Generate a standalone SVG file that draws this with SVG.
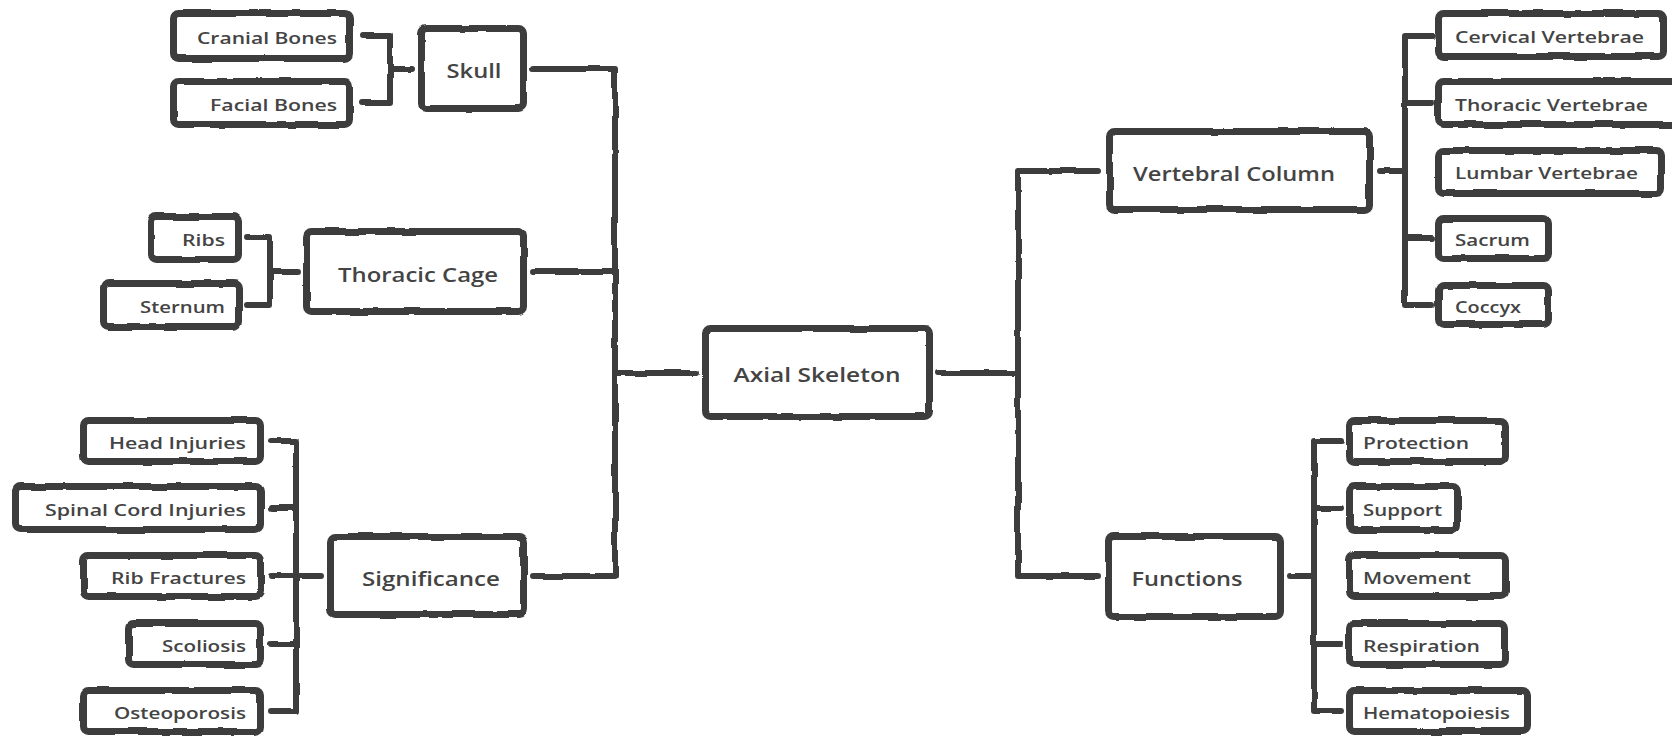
<svg xmlns="http://www.w3.org/2000/svg" width="1672" height="736" viewBox="0 0 1672 736">
  <defs>
    <!-- slight wobble for a hand-drawn marker look -->
    <filter id="rough" filterUnits="userSpaceOnUse" x="0" y="0" width="1672" height="736">
      <feTurbulence type="fractalNoise" baseFrequency="0.035" numOctaves="2" seed="7" result="noise"/>
      <feDisplacementMap in="SourceGraphic" in2="noise" scale="3.5" xChannelSelector="R" yChannelSelector="G"/>
    </filter>
    <style>
      .box { fill: #ffffff; stroke: #3d3d3d; stroke-width: 7; stroke-linejoin: round; filter: url(#rough); }
      .wire { fill: none; stroke: #3d3d3d; stroke-width: 6; stroke-linecap: round; stroke-linejoin: round; filter: url(#rough); }
      text { font-family: "Open Sans", "Liberation Sans", sans-serif; font-weight: 600; fill: #444444; }
      .leaf { font-size: 17px; }
      .main { font-size: 20px; text-anchor: middle; }
      .l { text-anchor: end; }
      .r { text-anchor: start; }
    </style>
  </defs>

  <rect width="1672" height="736" fill="#ffffff"/>

  <!-- connectors -->
  <g id="connectors">
    <!-- skull bracket -->
    <path class="wire" d="M362,35 H390 V103 H362 M390,69 H412"/>
    <!-- thoracic cage bracket -->
    <path class="wire" d="M247,238 H270 V305 H247 M270,272 H298"/>
    <!-- significance bracket -->
    <path class="wire" d="M271,441 H296 V711 H271 M271,508 H296 M271,576 H321 M271,644 H296"/>
    <!-- left trunk to the root -->
    <path class="wire" d="M533,69 H615 V576 H533 M533,272 H615 M615,373 H696"/>
    <!-- right trunk from the root -->
    <path class="wire" d="M938,373 H1018 M1097,171 H1018 V576 H1097"/>
    <!-- vertebral column bracket -->
    <path class="wire" d="M1380,171 H1405 M1432,36 H1405 V305 H1432 M1405,103 H1432 M1405,238 H1432"/>
    <!-- functions bracket -->
    <path class="wire" d="M1290,576 H1314 M1341,441 H1314 V711 H1341 M1314,508 H1341 M1314,644 H1341"/>
  </g>

  <!-- root -->
  <g id="axial-skeleton">
    <rect class="box" x="705.5" y="328.5" width="224" height="88" rx="5"/>
    <text class="main" x="817" y="382" textLength="167" lengthAdjust="spacingAndGlyphs">Axial Skeleton</text>
  </g>

  <!-- left branch -->
  <g id="skull">
    <rect class="box" x="421.5" y="28.5" width="102" height="80" rx="5"/>
    <text class="main" x="474" y="78" textLength="55" lengthAdjust="spacingAndGlyphs">Skull</text>
  </g>
  <g id="cranial-bones">
    <rect class="box" x="173.5" y="13.5" width="176" height="45" rx="5"/>
    <text class="leaf l" x="337" y="44" textLength="140" lengthAdjust="spacingAndGlyphs">Cranial Bones</text>
  </g>
  <g id="facial-bones">
    <rect class="box" x="173.5" y="81.5" width="176" height="43" rx="5"/>
    <text class="leaf l" x="337" y="111" textLength="127" lengthAdjust="spacingAndGlyphs">Facial Bones</text>
  </g>

  <g id="thoracic-cage">
    <rect class="box" x="306.5" y="231.5" width="217" height="80" rx="5"/>
    <text class="main" x="418" y="282" textLength="160" lengthAdjust="spacingAndGlyphs">Thoracic Cage</text>
  </g>
  <g id="ribs">
    <rect class="box" x="151.5" y="216.5" width="87" height="43" rx="5"/>
    <text class="leaf l" x="225" y="246" textLength="43" lengthAdjust="spacingAndGlyphs">Ribs</text>
  </g>
  <g id="sternum">
    <rect class="box" x="103.5" y="283.5" width="135" height="43" rx="5"/>
    <text class="leaf l" x="225" y="313" textLength="85" lengthAdjust="spacingAndGlyphs">Sternum</text>
  </g>

  <g id="significance">
    <rect class="box" x="330.5" y="536.5" width="193" height="78" rx="5"/>
    <text class="main" x="431" y="586" textLength="138" lengthAdjust="spacingAndGlyphs">Significance</text>
  </g>
  <g id="head-injuries">
    <rect class="box" x="83.5" y="420.5" width="177" height="41" rx="5"/>
    <text class="leaf l" x="246" y="449" textLength="137" lengthAdjust="spacingAndGlyphs">Head Injuries</text>
  </g>
  <g id="spinal-cord-injuries">
    <rect class="box" x="15.5" y="486.5" width="245" height="43" rx="5"/>
    <text class="leaf l" x="246" y="516" textLength="201" lengthAdjust="spacingAndGlyphs">Spinal Cord Injuries</text>
  </g>
  <g id="rib-fractures">
    <rect class="box" x="83.5" y="555.5" width="177" height="41" rx="5"/>
    <text class="leaf l" x="246" y="584" textLength="135" lengthAdjust="spacingAndGlyphs">Rib Fractures</text>
  </g>
  <g id="scoliosis">
    <rect class="box" x="128.5" y="623.5" width="132" height="41" rx="5"/>
    <text class="leaf l" x="246" y="652" textLength="84" lengthAdjust="spacingAndGlyphs">Scoliosis</text>
  </g>
  <g id="osteoporosis">
    <rect class="box" x="83.5" y="690.5" width="177" height="41" rx="5"/>
    <text class="leaf l" x="246" y="719" textLength="132" lengthAdjust="spacingAndGlyphs">Osteoporosis</text>
  </g>

  <!-- right branch -->
  <g id="vertebral-column">
    <rect class="box" x="1109.5" y="131.5" width="260" height="78" rx="5"/>
    <text class="main" x="1234" y="181" textLength="202" lengthAdjust="spacingAndGlyphs">Vertebral Column</text>
  </g>
  <g id="cervical-vertebrae">
    <rect class="box" x="1438.5" y="13.5" width="225" height="43" rx="5"/>
    <text class="leaf r" x="1455" y="43" textLength="189" lengthAdjust="spacingAndGlyphs">Cervical Vertebrae</text>
  </g>
  <g id="thoracic-vertebrae">
    <rect class="box" x="1438.5" y="81.5" width="240" height="43" rx="5"/>
    <text class="leaf r" x="1455" y="111" textLength="193" lengthAdjust="spacingAndGlyphs">Thoracic Vertebrae</text>
  </g>
  <g id="lumbar-vertebrae">
    <rect class="box" x="1438.5" y="150.5" width="223" height="43" rx="5"/>
    <text class="leaf r" x="1455" y="179" textLength="183" lengthAdjust="spacingAndGlyphs">Lumbar Vertebrae</text>
  </g>
  <g id="sacrum">
    <rect class="box" x="1438.5" y="218.5" width="110" height="40" rx="5"/>
    <text class="leaf r" x="1455" y="246" textLength="75" lengthAdjust="spacingAndGlyphs">Sacrum</text>
  </g>
  <g id="coccyx">
    <rect class="box" x="1438.5" y="285.5" width="110" height="39" rx="5"/>
    <text class="leaf r" x="1455" y="313" textLength="66" lengthAdjust="spacingAndGlyphs">Coccyx</text>
  </g>

  <g id="functions">
    <rect class="box" x="1108.5" y="536.5" width="172" height="80" rx="5"/>
    <text class="main" x="1187" y="586" textLength="111" lengthAdjust="spacingAndGlyphs">Functions</text>
  </g>
  <g id="protection">
    <rect class="box" x="1349.5" y="420.5" width="156" height="41" rx="5"/>
    <text class="leaf r" x="1363" y="449" textLength="106" lengthAdjust="spacingAndGlyphs">Protection</text>
  </g>
  <g id="support">
    <rect class="box" x="1349.5" y="486.5" width="108" height="43" rx="5"/>
    <text class="leaf r" x="1363" y="516" textLength="79" lengthAdjust="spacingAndGlyphs">Support</text>
  </g>
  <g id="movement">
    <rect class="box" x="1349.5" y="555.5" width="156" height="41" rx="5"/>
    <text class="leaf r" x="1363" y="584" textLength="108" lengthAdjust="spacingAndGlyphs">Movement</text>
  </g>
  <g id="respiration">
    <rect class="box" x="1349.5" y="623.5" width="156" height="41" rx="5"/>
    <text class="leaf r" x="1363" y="652" textLength="117" lengthAdjust="spacingAndGlyphs">Respiration</text>
  </g>
  <g id="hematopoiesis">
    <rect class="box" x="1349.5" y="690.5" width="178" height="41" rx="5"/>
    <text class="leaf r" x="1363" y="719" textLength="147" lengthAdjust="spacingAndGlyphs">Hematopoiesis</text>
  </g>
</svg>
